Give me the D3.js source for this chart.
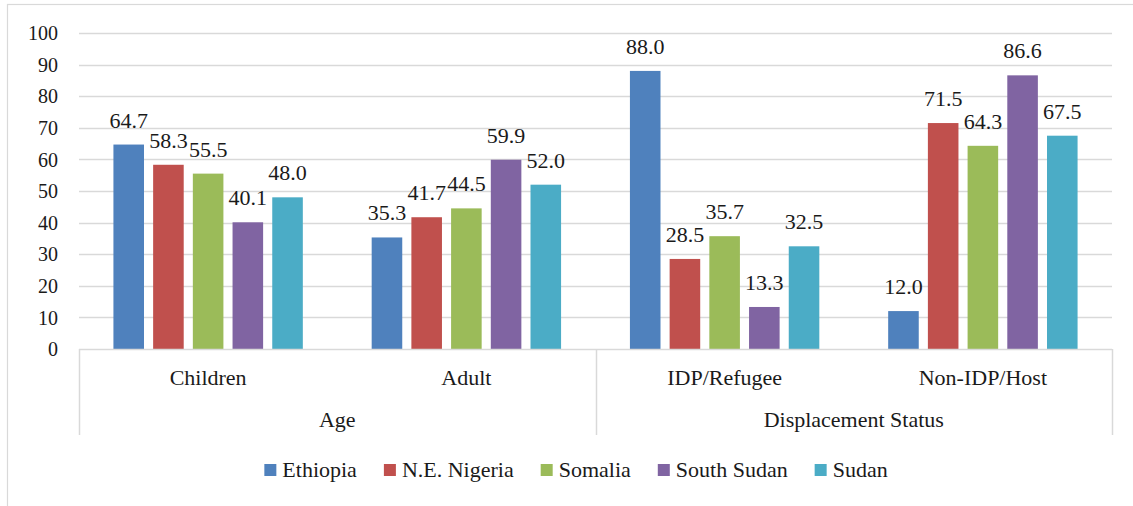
<!DOCTYPE html>
<html>
<head>
<meta charset="utf-8">
<script src="https://cdn.jsdelivr.net/npm/d3@7"></script>
<style>
  body { margin: 0; background: #fff; }
  svg { display: block; }
  svg text { font-family: "Liberation Serif", "Times New Roman", serif !important; }
</style>
</head>
<body>
<svg id="chart" width="1133" height="506" font-family="Liberation Serif"></svg>
<script>
// data
const countries = ["Ethiopia", "N.E. Nigeria", "Somalia", "South Sudan", "Sudan"];
const colors = ["#4F81BD", "#C0504D", "#9BBB59", "#8064A2", "#4BACC6"];
const subCategories = ["Children", "Adult", "IDP/Refugee", "Non-IDP/Host"];
const groupNames = ["Age", "Displacement Status"];
const groupMembers = [["Children", "Adult"], ["IDP/Refugee", "Non-IDP/Host"]];
const childrenValues = [64.7, 58.3, 55.5, 40.1, 48.0];
const adultValues = [35.3, 41.7, 44.5, 59.9, 52.0];
const idpValues = [88.0, 28.5, 35.7, 13.3, 32.5];
const hostValues = [12.0, 71.5, 64.3, 86.6, 67.5];
const yTicks = [0, 10, 20, 30, 40, 50, 60, 70, 80, 90, 100];

const valuesByCategory = {
  "Children": childrenValues,
  "Adult": adultValues,
  "IDP/Refugee": idpValues,
  "Non-IDP/Host": hostValues,
};

const FONT = "Liberation Serif";
const INK = "#1a1a1a";
const GRID = "#d9d9d9";

const plotLeft = 79;
const plotRight = 1112;
const plotTop = 33;
const plotBottom = 349;

const svg = d3.select("#chart");

const xScale = d3.scaleBand().domain(subCategories).range([plotLeft, plotRight]).padding(0);
const xInner = d3
  .scaleBand()
  .domain(countries)
  .range([0, xScale.bandwidth()])
  .paddingInner(0.23)
  .paddingOuter(0.867);
const yScale = d3.scaleLinear().domain([0, 100]).range([plotBottom, plotTop]);
const colorScale = d3.scaleOrdinal().domain(countries).range(colors);

// set font directly on every text
function label(sel, size) {
  return sel.attr("font-family", FONT).attr("font-size", size).attr("fill", INK);
}

// outer chart border (runs off the right and bottom)
svg
  .append("rect")
  .attr("x", 7.5)
  .attr("y", 4.5)
  .attr("width", 1150)
  .attr("height", 540)
  .attr("fill", "none")
  .attr("stroke", GRID)
  .attr("stroke-width", 1.2);

// gridlines
svg
  .append("g")
  .selectAll("line")
  .data(yTicks.slice(1))
  .join("line")
  .attr("x1", plotLeft)
  .attr("x2", plotRight)
  .attr("y1", (d) => Math.round(yScale(d)) + 0.5)
  .attr("y2", (d) => Math.round(yScale(d)) + 0.5)
  .attr("stroke", GRID)
  .attr("stroke-width", 1.3);

// y axis labels
const yAxisGroup = svg
  .append("g")
  .attr("transform", `translate(${plotLeft},0)`)
  .call(d3.axisLeft(yScale).tickValues(yTicks).tickSize(0).tickPadding(21));
yAxisGroup.attr("font-family", FONT).attr("font-size", 20);
yAxisGroup.select(".domain").remove();
label(yAxisGroup.selectAll("text"), 20).attr("dy", "0.33em");

// bars and their value labels
const rows = (d) => valuesByCategory[d].map((v, i) => ({ country: countries[i], value: v }));

const cat = svg
  .append("g")
  .selectAll("g")
  .data(subCategories)
  .join("g")
  .attr("transform", (d) => `translate(${xScale(d)},0)`);

cat
  .selectAll("rect")
  .data(rows)
  .join("rect")
  .attr("x", (d) => xInner(d.country))
  .attr("y", (d) => yScale(d.value))
  .attr("width", xInner.bandwidth())
  .attr("height", (d) => plotBottom - yScale(d.value))
  .attr("fill", (d) => colorScale(d.country));

label(cat.selectAll("text").data(rows).join("text"), 22)
  .attr("x", (d) => xInner(d.country) + xInner.bandwidth() / 2)
  .attr("y", (d) => yScale(d.value) - 17)
  .attr("text-anchor", "middle")
  .text((d) => d.value.toFixed(1));

// x axis baseline
svg
  .append("line")
  .attr("x1", plotLeft)
  .attr("x2", plotRight)
  .attr("y1", plotBottom + 0.5)
  .attr("y2", plotBottom + 0.5)
  .attr("stroke", GRID)
  .attr("stroke-width", 1.5);

// separators of the two-level category axis
const sepX = [plotLeft].concat(
  groupMembers.map((m) => xScale(m[m.length - 1]) + xScale.bandwidth())
);
svg
  .append("g")
  .selectAll("line")
  .data(sepX)
  .join("line")
  .attr("x1", (d) => Math.round(d) + 0.5)
  .attr("x2", (d) => Math.round(d) + 0.5)
  .attr("y1", plotBottom)
  .attr("y2", 435)
  .attr("stroke", GRID)
  .attr("stroke-width", 1.5);

// inner category labels
label(svg.append("g").selectAll("text").data(subCategories).join("text"), 22)
  .attr("x", (d) => xScale(d) + xScale.bandwidth() / 2)
  .attr("y", 385)
  .attr("text-anchor", "middle")
  .text((d) => d);

// outer group labels
label(svg.append("g").selectAll("text").data(groupNames).join("text"), 22)
  .attr("x", (d, i) => {
    const m = groupMembers[i];
    return (xScale(m[0]) + xScale(m[m.length - 1]) + xScale.bandwidth()) / 2;
  })
  .attr("y", 427)
  .attr("text-anchor", "middle")
  .text((d) => d);

// legend, laid out from measured text widths and centred
const items = svg.append("g").selectAll("g").data(countries).join("g");
items
  .append("rect")
  .attr("y", 464)
  .attr("width", 12)
  .attr("height", 12)
  .attr("fill", (d) => colorScale(d));
label(items.append("text"), 22)
  .attr("x", 18)
  .attr("y", 477)
  .text((d) => d);

let offset = 0;
const offsets = [];
items.each(function () {
  offsets.push(offset);
  const w = d3.select(this).select("text").node().getComputedTextLength();
  offset += 18 + w + 27;
});
const start = 576 - (offset - 27) / 2;
items.attr("transform", (d, i) => `translate(${start + offsets[i]},0)`);
</script>
</body>
</html>
